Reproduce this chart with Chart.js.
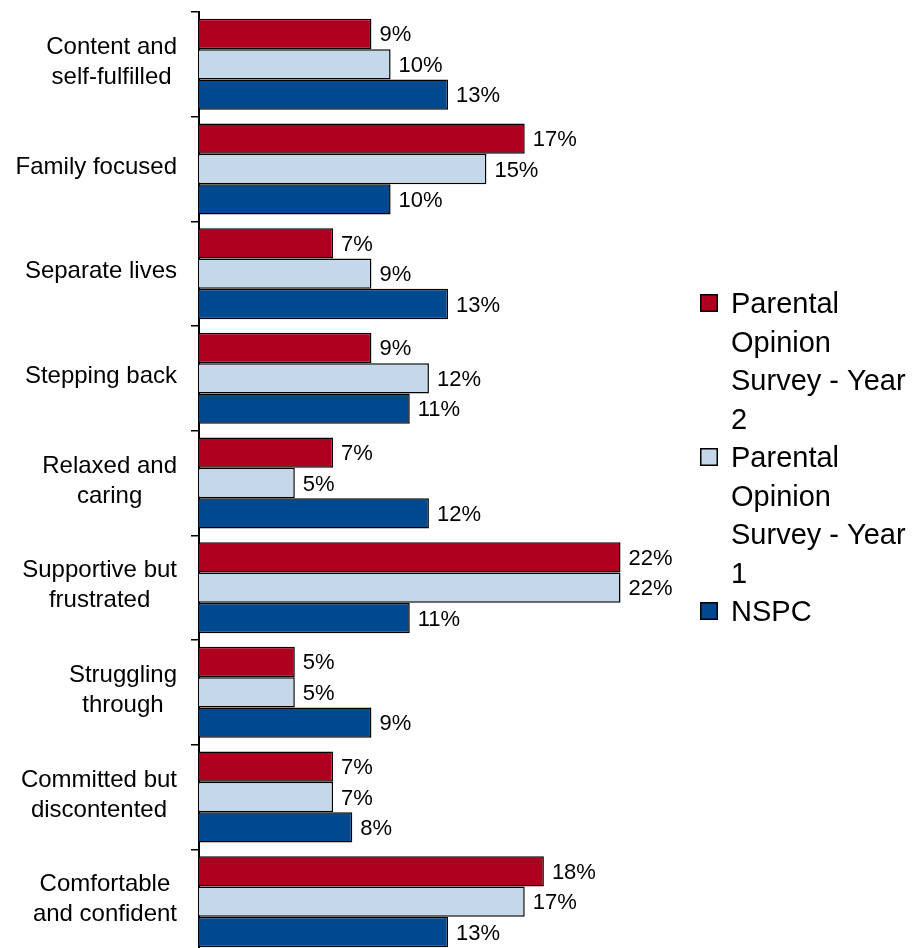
<!DOCTYPE html>
<html>
<head>
<meta charset="utf-8">
<script src="https://cdn.jsdelivr.net/npm/chart.js@4.4.1/dist/chart.umd.min.js"></script>
<style>
  html, body { margin: 0; padding: 0; background: #fff; overflow: hidden; }
  canvas { display: block; }
</style>
</head>
<body>
<canvas id="myChart" width="919" height="954"></canvas>
<script>
// setup
const categories = [
  ["Content and", "self-fulfilled"],
  ["Family focused"],
  ["Separate lives"],
  ["Stepping back"],
  ["Relaxed and", "caring"],
  ["Supportive but", "frustrated"],
  ["Struggling", "through"],
  ["Committed but", "discontented"],
  ["Comfortable", "and confident"]
];
const year2 = [9, 17, 7, 9, 7, 22, 5, 7, 18];
const year1 = [10, 15, 9, 12, 5, 22, 5, 7, 17];
const nspc = [13, 10, 13, 11, 12, 11, 9, 8, 13];
const seriesNames = ["Parental Opinion Survey - Year 2", "Parental Opinion Survey - Year 1", "NSPC"];
const seriesColors = ["rgb(176, 0, 32)", "rgb(196, 216, 233)", "rgb(0, 73, 143)"];

const FONT = "'Liberation Sans', Arial, sans-serif";

const data = {
  labels: categories,
  datasets: [year2, year1, nspc].map((values, i) => ({
    label: seriesNames[i],
    data: values,
    backgroundColor: seriesColors[i],
    borderColor: "#000",
    borderWidth: 1.5,
    barPercentage: 1,
    categoryPercentage: 0.87
  }))
};

// category labels: lines centred on each other, block right edge at the ticks
const categoryLabels = {
  id: "categoryLabels",
  afterDraw(chart) {
    const ctx = chart.ctx;
    const y = chart.scales.y;
    ctx.save();
    ctx.font = "24px " + FONT;
    ctx.fillStyle = "#000";
    ctx.textAlign = "center";
    ctx.textBaseline = "alphabetic";
    categories.forEach((lines, i) => {
      const cy = y.getPixelForTick(i);
      const w = Math.max(...lines.map(l => ctx.measureText(l).width));
      const cx = y.right - 22 - w / 2;
      lines.forEach((line, k) => {
        ctx.fillText(line, cx, cy + 4.5 + (k - (lines.length - 1) / 2) * 30);
      });
    });
    ctx.restore();
  }
};

// value labels at the end of each bar
const valueLabels = {
  id: "valueLabels",
  afterDatasetsDraw(chart) {
    const ctx = chart.ctx;
    ctx.save();
    ctx.font = "22px " + FONT;
    ctx.fillStyle = "#000";
    ctx.textAlign = "left";
    ctx.textBaseline = "alphabetic";
    chart.data.datasets.forEach((ds, i) => {
      chart.getDatasetMeta(i).data.forEach((bar, j) => {
        ctx.fillText(ds.data[j] + "%", bar.x + 8, bar.y + 7.5);
      });
    });
    ctx.restore();
  }
};

// legend on the right, text wrapped like the original
const sideLegend = {
  id: "sideLegend",
  afterDraw(chart) {
    const ctx = chart.ctx;
    const boxX = 700, textX = 731, maxW = 919 - textX;
    const lineH = 38.5;
    let baseline = 313;
    ctx.save();
    ctx.font = "29px " + FONT;
    ctx.textBaseline = "alphabetic";
    ctx.textAlign = "left";
    chart.data.datasets.forEach((ds) => {
      ctx.fillStyle = ds.backgroundColor;
      ctx.fillRect(boxX, baseline - 19, 18, 18);
      ctx.strokeStyle = "#000";
      ctx.lineWidth = 1.5;
      ctx.strokeRect(boxX + 0.75, baseline - 18.25, 16.5, 16.5);
      // word wrap
      const words = ds.label.split(" ");
      const lines = [];
      let cur = "";
      words.forEach((w) => {
        const test = cur ? cur + " " + w : w;
        if (cur && ctx.measureText(test).width > maxW) {
          lines.push(cur);
          cur = w;
        } else {
          cur = test;
        }
      });
      lines.push(cur);
      ctx.fillStyle = "#000";
      lines.forEach((line) => {
        ctx.fillText(line, textX, baseline);
        baseline += lineH;
      });
    });
    ctx.restore();
  }
};

// config
const config = {
  type: "bar",
  data,
  options: {
    indexAxis: "y",
    responsive: false,
    animation: false,
    layout: { padding: { left: 0, top: 12, right: 241, bottom: 0 } },
    scales: {
      x: { display: false, min: 0, max: 25 },
      y: {
        grid: {
          offset: true,
          drawOnChartArea: false,
          drawTicks: true,
          tickLength: 8,
          color: "#000",
          lineWidth: 1.5
        },
        border: { display: true, color: "#000", width: 2 },
        ticks: { display: false },
        afterFit(scale) { scale.width = 199; }
      }
    },
    plugins: {
      legend: { display: false },
      tooltip: { enabled: false }
    }
  },
  plugins: [valueLabels, categoryLabels, sideLegend]
};

// render init block
const myChart = new Chart(document.getElementById("myChart"), config);
</script>
</body>
</html>
